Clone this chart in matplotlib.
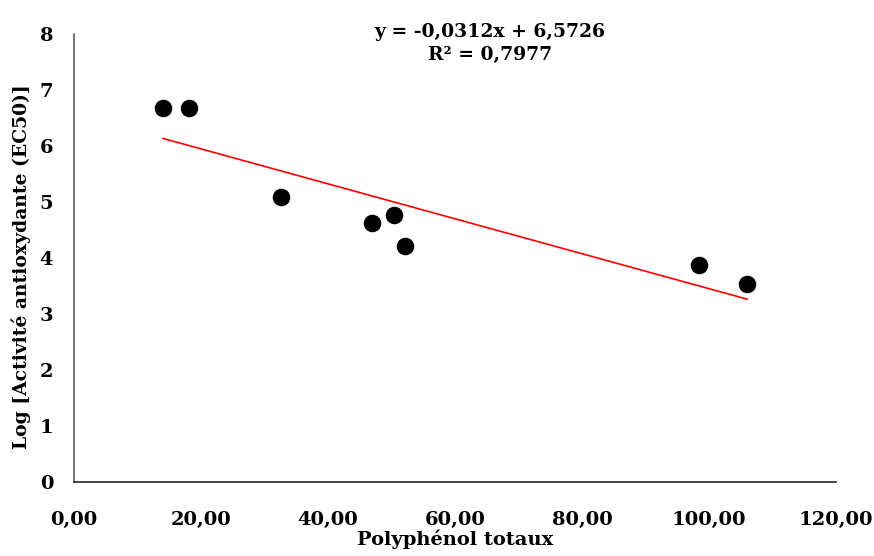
# nuage de points : activité antioxydante vs polyphénols totaux
import numpy as np
import matplotlib.pyplot as plt

plt.rcParams['font.family'] = ['DejaVu Serif']

# polyphénols totaux
polyphenols = [14.0, 18.1, 32.6, 46.9, 50.4, 52.1, 98.4, 106.0]
# log de l'activité antioxydante (EC50)
log_ec50 = [6.68, 6.68, 5.09, 4.63, 4.77, 4.21, 3.88, 3.54]

# droite de tendance affichée
slope = -0.0312
intercept = 6.5726
r2 = 0.7977

x_ticks = [0, 20, 40, 60, 80, 100, 120]
y_ticks = [0, 1, 2, 3, 4, 5, 6, 7, 8]


def fr(v):
    return ('%.2f' % v).replace('.', ',')


def main():
    fig = plt.figure(figsize=(8.74, 5.56), dpi=100)
    ax = fig.add_axes([0.0847, 0.1331, 0.8718, 0.8057])

    ax.scatter(polyphenols, log_ec50, s=135, color='black', zorder=3)

    xs = np.array([min(polyphenols), max(polyphenols)])
    ax.plot(xs, slope * xs + intercept, color='red', linewidth=1.2)

    ax.set_xlim(0, 120)
    ax.set_ylim(0, 8)
    ax.set_xticks(x_ticks)
    ax.set_xticklabels([fr(v) for v in x_ticks])
    ax.set_yticks(y_ticks)
    ax.tick_params(axis='x', length=0, labelsize=14, pad=21)
    ax.tick_params(axis='y', length=0, labelsize=14, pad=15)
    for lbl in ax.get_xticklabels() + ax.get_yticklabels():
        lbl.set_fontweight('bold')

    for side in ('top', 'right'):
        ax.spines[side].set_visible(False)
    ax.spines['left'].set_color('#595959')
    ax.spines['bottom'].set_color('#262626')
    ax.spines['left'].set_linewidth(1.2)
    ax.spines['bottom'].set_linewidth(1.2)

    ax.set_xlabel('Polyphénol totaux', fontsize=14, fontweight='bold', labelpad=0)
    ax.set_ylabel('Log [Activité antioxydante (EC50)]', fontsize=13.5,
                  fontweight='bold')
    ax.yaxis.set_label_coords(-0.056, 0.48)

    eq = 'y = %s x + %s\nR² = %s' % ('%.4f' % slope, '%.4f' % intercept, '%.4f' % r2)
    eq = eq.replace('.', ',').replace(' x', 'x')
    ax.text(65.5, 7.83, eq, ha='center', va='center', fontsize=13.5,
            fontweight='bold', linespacing=1.35, clip_on=False)

    fig.savefig('out.png', dpi=100)


if __name__ == '__main__':
    main()
